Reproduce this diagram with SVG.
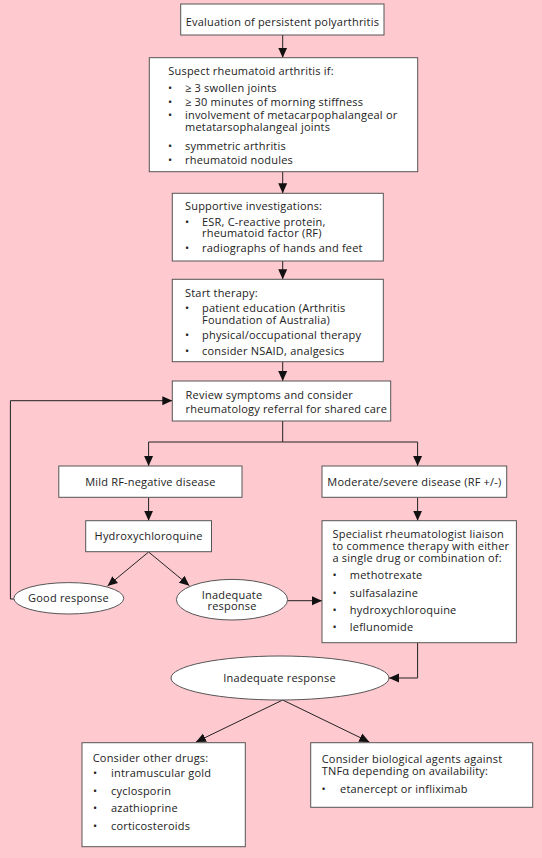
<svg xmlns="http://www.w3.org/2000/svg" width="542" height="858" viewBox="0 0 542 858">
<defs>
<marker id="ah" markerUnits="userSpaceOnUse" markerWidth="10" markerHeight="10" viewBox="0 0 10 10" refX="10" refY="5" orient="auto">
<path d="M0,0.5 L10,5 L0,9.5 z" fill="#111"/>
</marker>
<style>
.bx{fill:#fff;stroke:#555;stroke-width:1}
.t{font-family:"Open Sans","Liberation Sans",sans-serif;font-size:11px;letter-spacing:0.2px;fill:#222}
.c{text-anchor:middle}
.cn{fill:none;stroke:#222;stroke-width:1;marker-end:url(#ah)}
</style>
</defs>
<rect width="542" height="858" fill="#FFC9D0"/>
<g id="connectors">
<path class="cn" d="M282.7,35 V57.7"/>
<path class="cn" d="M282.7,171.7 V193.3"/>
<path class="cn" d="M282.7,261 V279.3"/>
<path class="cn" d="M282.7,361.7 V381"/>
<path class="cn" d="M282.7,421 V442 H148.6 V466"/>
<path class="cn" d="M282.7,442 H417.6 V466"/>
<path class="cn" d="M148.6,497.3 V520.7"/>
<path class="cn" d="M417.6,497.3 V520.7"/>
<path class="cn" d="M148.6,552 L107.5,586"/>
<path class="cn" d="M148.6,552 L189.4,585.7"/>
<path class="cn" d="M287.6,600.7 H322"/>
<path class="cn" d="M417.6,642.7 V678 H389"/>
<path class="cn" d="M14,599 H10.4 V400.7 H172.3"/>
<path class="cn" d="M282.7,700 L196,742"/>
<path class="cn" d="M282.7,700 L369.3,742"/>
</g>
<g id="n1">
<rect class="bx" x="180.7" y="4" width="203.3" height="31"/>
<text class="t c" x="282.4" y="26">Evaluation of persistent polyarthritis</text>
</g>
<g id="n2">
<rect class="bx" x="149.3" y="57.7" width="268.4" height="114"/>
<text class="t" x="168.3" y="75.3">Suspect rheumatoid arthritis if:</text>
<text class="t" x="168" y="92">•</text><text class="t" x="185" y="92">≥ 3 swollen joints</text>
<text class="t" x="168" y="105.7">•</text><text class="t" x="185" y="105.7">≥ 30 minutes of morning stiffness</text>
<text class="t" x="168" y="119">•</text><text class="t" x="185" y="119">involvement of metacarpophalangeal or</text>
<text class="t" x="185" y="131">metatarsophalangeal joints</text>
<text class="t" x="168" y="149.7">•</text><text class="t" x="185" y="149.7">symmetric arthritis</text>
<text class="t" x="168" y="164">•</text><text class="t" x="185" y="164">rheumatoid nodules</text>
</g>
<g id="n3">
<rect class="bx" x="172.3" y="193.3" width="211" height="67.7"/>
<text class="t" x="185" y="210">Supportive investigations:</text>
<text class="t" x="185" y="225.5">•</text><text class="t" x="202" y="225.5">ESR, C-reactive protein,</text>
<text class="t" x="202" y="237">rheumatoid factor (RF)</text>
<text class="t" x="185" y="251.7">•</text><text class="t" x="202" y="251.7">radiographs of hands and feet</text>
</g>
<g id="n4">
<rect class="bx" x="172.3" y="279.3" width="211" height="82.4"/>
<text class="t" x="185" y="297">Start therapy:</text>
<text class="t" x="185" y="312">•</text><text class="t" x="202" y="312">patient education (Arthritis</text>
<text class="t" x="202" y="323.5">Foundation of Australia)</text>
<text class="t" x="185" y="339">•</text><text class="t" x="202" y="339">physical/occupational therapy</text>
<text class="t" x="185" y="355">•</text><text class="t" x="202" y="355">consider NSAID, analgesics</text>
</g>
<g id="n5">
<rect class="bx" x="172.3" y="381" width="218.4" height="40"/>
<text class="t" x="185.6" y="399">Review symptoms and consider</text>
<text class="t" x="185.6" y="412.5">rheumatology referral for shared care</text>
</g>
<g id="n6">
<rect class="bx" x="58.8" y="466" width="183.2" height="31.3"/>
<text class="t c" x="150.4" y="486">Mild RF-negative disease</text>
</g>
<g id="n7">
<rect class="bx" x="322" y="466" width="184.7" height="31.3"/>
<text class="t c" x="414.4" y="486">Moderate/severe disease (RF +/-)</text>
</g>
<g id="n8">
<rect class="bx" x="85.7" y="520.7" width="125.8" height="31"/>
<text class="t c" x="148.6" y="540">Hydroxychloroquine</text>
</g>
<g id="n9">
<rect class="bx" x="322" y="520.7" width="194.4" height="122"/>
<text class="t" x="332.5" y="538">Specialist rheumatologist liaison</text>
<text class="t" x="332.5" y="550.2">to commence therapy with either</text>
<text class="t" x="332.5" y="562.4">a single drug or combination of:</text>
<text class="t" x="332.5" y="579">•</text><text class="t" x="349.8" y="579">methotrexate</text>
<text class="t" x="332.5" y="596.7">•</text><text class="t" x="349.8" y="596.7">sulfasalazine</text>
<text class="t" x="332.5" y="614">•</text><text class="t" x="349.8" y="614">hydroxychloroquine</text>
<text class="t" x="332.5" y="631.3">•</text><text class="t" x="349.8" y="631.3">leflunomide</text>
</g>
<g id="n10">
<ellipse class="bx" cx="68.8" cy="598.3" rx="55" ry="15.7"/>
<text class="t c" x="68.5" y="602">Good response</text>
</g>
<g id="n11">
<ellipse class="bx" cx="232" cy="599.7" rx="55.6" ry="20.3"/>
<text class="t c" x="232" y="598.5">Inadequate</text>
<text class="t c" x="232" y="610">response</text>
</g>
<g id="n12">
<ellipse class="bx" cx="280" cy="678" rx="109" ry="22"/>
<text class="t c" x="279.5" y="682">Inadequate response</text>
</g>
<g id="n13">
<rect class="bx" x="82" y="742.7" width="163.3" height="104"/>
<text class="t" x="92.7" y="761.7">Consider other drugs:</text>
<text class="t" x="93" y="777.3">•</text><text class="t" x="111" y="777.3">intramuscular gold</text>
<text class="t" x="93" y="794.7">•</text><text class="t" x="111" y="794.7">cyclosporin</text>
<text class="t" x="93" y="812.3">•</text><text class="t" x="111" y="812.3">azathioprine</text>
<text class="t" x="93" y="830">•</text><text class="t" x="111" y="830">corticosteroids</text>
</g>
<g id="n14">
<rect class="bx" x="310.7" y="742.7" width="222" height="64.6"/>
<text class="t" x="321.7" y="763">Consider biological agents against</text>
<text class="t" x="321.7" y="775">TNFα depending on availability:</text>
<text class="t" x="321.5" y="793">•</text><text class="t" x="340" y="793">etanercept or infliximab</text>
</g>
</svg>
